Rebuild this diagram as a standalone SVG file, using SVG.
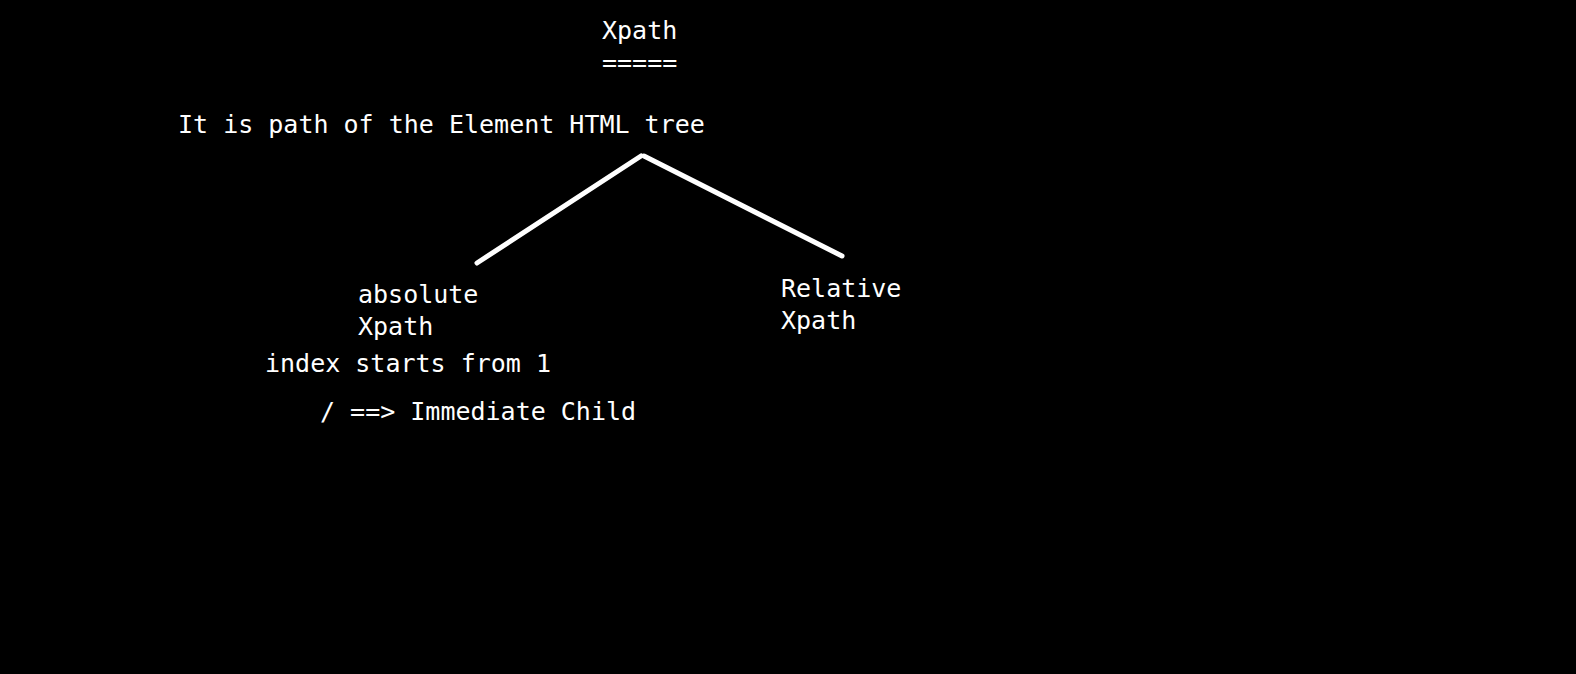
<svg xmlns="http://www.w3.org/2000/svg" width="1576" height="674" viewBox="0 0 1576 674">
<style>
text{font-family:"DejaVu Sans Mono","Liberation Mono",monospace;font-size:25px;fill:#fff}
.ln{stroke:#fff;stroke-width:5;stroke-linecap:round;fill:none}
</style>
<rect width="1576" height="674" fill="#000"/>
<g id="title"><text x="602" y="39">Xpath</text><text x="602" y="71">=====</text></g>
<g id="desc"><text x="178" y="133">It is path of the Element HTML tree</text></g>
<g id="connectors">
<line class="ln" x1="641" y1="156" x2="477" y2="263"/>
<line class="ln" x1="644" y1="156" x2="842" y2="256"/>
</g>
<g id="absolute"><text x="358" y="303">absolute</text><text x="358" y="335">Xpath</text></g>
<g id="relative"><text x="781" y="297">Relative</text><text x="781" y="329">Xpath</text></g>
<g id="index"><text x="265" y="372">index starts from 1</text></g>
<g id="child"><text x="320" y="420">/ ==&gt; Immediate Child</text></g>
</svg>
